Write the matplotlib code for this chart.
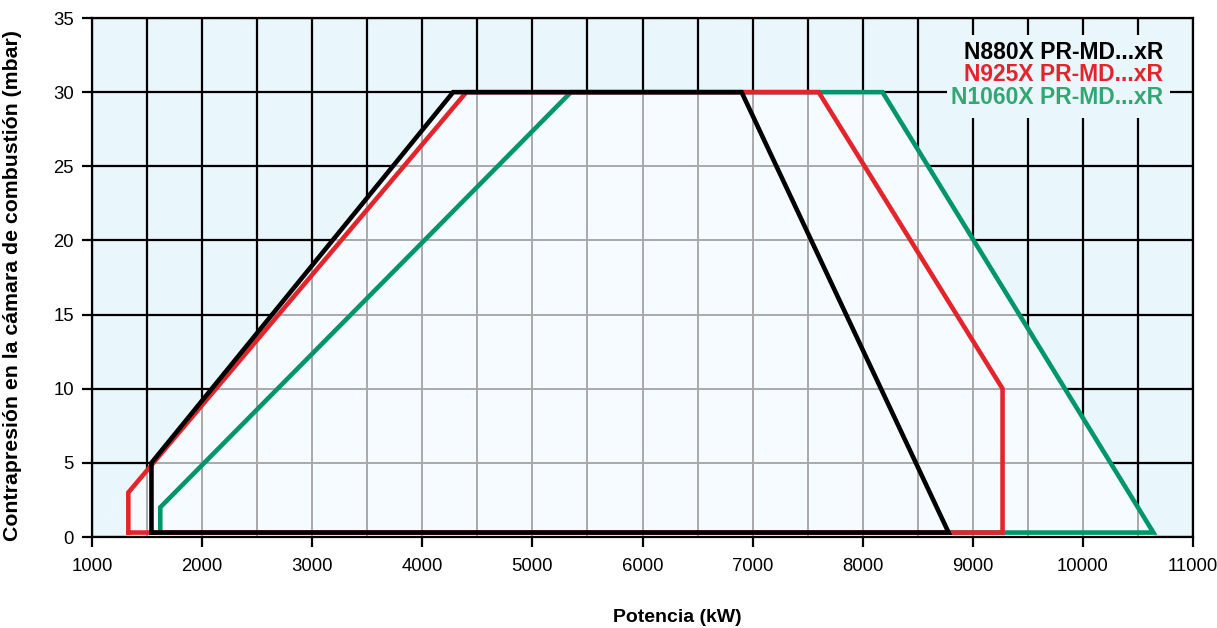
import numpy as np
import matplotlib
matplotlib.use("Agg")
import matplotlib.pyplot as plt
from matplotlib.patches import Polygon, Rectangle

plt.rcParams['font.family'] = ['Liberation Sans', 'DejaVu Sans']

# ── data (kW, mbar) ──────────────────────────────────────────────────────────
black_x = [1540, 1540, 4280, 6900, 8780, 1540]
black_y = [0.3, 5.0, 30, 30, 0.3, 0.3]
red_x   = [1330, 1330, 4400, 7600, 9270, 9270, 1330]
red_y   = [0.3, 3.0, 30, 30, 10, 0.3, 0.3]
green_x = [1620, 1620, 5350, 8180, 10640, 1620]
green_y = [0.3, 2.0, 30, 30, 0.3, 0.3]

labels = ["N880X PR-MD...xR", "N925X PR-MD...xR", "N1060X PR-MD...xR"]
line_cols = ["#000000", "#e3252b", "#00956b"]
text_cols = ["#000000", "#e3252b", "#33a672"]

x_ticks = list(range(1000, 11001, 1000))
y_ticks = list(range(0, 36, 5))

BG = "#e9f6fc"

# ── envelope (union of the three ranges) ─────────────────────────────────────
def intersect(p1, p2, p3, p4):
    (x1, y1), (x2, y2), (x3, y3), (x4, y4) = p1, p2, p3, p4
    d = (x1 - x2) * (y3 - y4) - (y1 - y2) * (x3 - x4)
    t = ((x1 - x3) * (y3 - y4) - (y1 - y3) * (x3 - x4)) / d
    return (x1 + t * (x2 - x1), y1 + t * (y2 - y1))

xing = intersect((red_x[1], red_y[1]), (red_x[2], red_y[2]),
                 (black_x[1], black_y[1]), (black_x[2], black_y[2]))
env = [(red_x[0], 0.0), (red_x[1], red_y[1]), xing,
       (black_x[2], black_y[2]), (green_x[3], green_y[3]),
       (green_x[4], green_y[4]), (green_x[4], 0.0)]

fig = plt.figure(figsize=(12.17, 6.28), dpi=100)
ax = fig.add_axes([0.0756, 0.1449, 0.9047, 0.8264])
ax.set_facecolor(BG)
ax.set_xlim(1000, 11000)
ax.set_ylim(0, 35)

# outer black grid
for gx in range(1000, 11001, 500):
    ax.axvline(gx, color="black", lw=1.6, zorder=1)
for gy in y_ticks:
    ax.axhline(gy, color="black", lw=1.6, zorder=1)

# envelope fill + gray grid inside it
poly = Polygon(env, closed=True, facecolor="#f6fbff", edgecolor="none", zorder=2)
ax.add_patch(poly)
for gx in range(1000, 11001, 500):
    l = ax.axvline(gx, color="#a9a9a9", lw=1.4, zorder=3)
    l.set_clip_path(poly)
for gy in y_ticks:
    l = ax.axhline(gy, color="#a9a9a9", lw=1.4, zorder=3)
    l.set_clip_path(poly)

# ranges
for xs, ys, c, z in [(green_x, green_y, line_cols[2], 4),
                     (red_x, red_y, line_cols[1], 5),
                     (black_x, black_y, line_cols[0], 6)]:
    ax.plot(xs, ys, color=c, lw=3.3, solid_joinstyle="miter",
            solid_capstyle="projecting", zorder=z)

# legend as text on a background-coloured block hiding the grid
ax.add_patch(Rectangle((0.777, 0.807), 0.202, 0.160, transform=ax.transAxes,
                       facecolor=BG, edgecolor="none", zorder=1.5))
for i, (lab, c) in enumerate(zip(labels, text_cols)):
    ax.text(0.973, 0.9345 - i * 0.0437, lab, transform=ax.transAxes,
            ha="right", va="center", fontsize=16.5, fontweight="bold",
            color=c, zorder=7)

ax.set_xticks(x_ticks)
ax.set_yticks(y_ticks)
ax.tick_params(axis="both", direction="out", length=7, width=1.6,
               labelsize=13.3, color="black")
ax.tick_params(axis="x", pad=8)
ax.tick_params(axis="y", pad=6)
for s in ax.spines.values():
    s.set_linewidth(1.6)
    s.set_zorder(8)

ax.set_xlabel("Potencia (kW)", fontsize=14, fontweight="bold")
ax.set_ylabel("Contrapresión en la cámara de combustión (mbar)",
              fontsize=15.3, fontweight="bold")
ax.xaxis.set_label_coords(0.532, -0.139)
ax.yaxis.set_label_coords(-0.064, 0.484)

fig.savefig("out.png", dpi=100, facecolor="white")
